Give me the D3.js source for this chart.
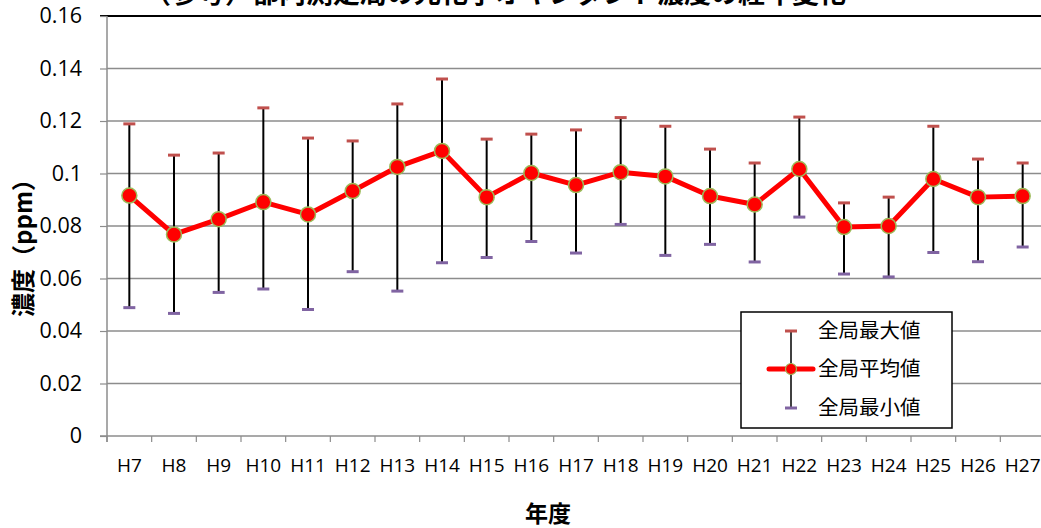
<!DOCTYPE html>
<html>
<head>
<meta charset="utf-8">
<script src="https://cdn.jsdelivr.net/npm/d3@7"></script>
<style>
  body { margin: 0; background: #fff; overflow: hidden; }
  svg text { font-family: "Open Sans", "Noto Sans CJK JP", sans-serif; }
</style>
</head>
<body>
<svg id="chart" width="1041" height="528"></svg>
<script>
// data
var years = ["H7","H8","H9","H10","H11","H12","H13","H14","H15","H16","H17",
             "H18","H19","H20","H21","H22","H23","H24","H25","H26","H27"];
var maxVals = [0.1189,0.107,0.1078,0.125,0.1135,0.1124,0.1265,0.136,0.1131,0.115,0.1166,
               0.1213,0.118,0.1093,0.104,0.1215,0.0888,0.091,0.118,0.1055,0.104];
var meanVals = [0.0916,0.0768,0.0826,0.0891,0.0844,0.0933,0.1025,0.1086,0.091,0.1002,0.0956,
                0.1005,0.0989,0.0914,0.0882,0.1017,0.0796,0.08,0.0979,0.091,0.0914];
var minVals = [0.0489,0.0467,0.0547,0.056,0.0482,0.0626,0.0552,0.066,0.068,0.0741,0.0697,
               0.0806,0.0688,0.073,0.0663,0.0834,0.0617,0.0606,0.0699,0.0664,0.072];
var yTicks = [0, 0.02, 0.04, 0.06, 0.08, 0.1, 0.12, 0.14, 0.16];
var legendLabels = ["全局最大値", "全局平均値", "全局最小値"];

(function() {
var svg = d3.select("#chart");
var plotL = 107, plotT = 16, plotB = 436, plotR = 1045;

var x = d3.scaleBand().domain(years).range([plotL, plotR]);
var y = d3.scaleLinear().domain([0, 0.16]).range([plotB, plotT]);
var cx = function(i) { return x(years[i]) + x.bandwidth() / 2; };

// title (cut off at the top in the original)
svg.append("text")
    .attr("x", 495).attr("y", 3)
    .attr("text-anchor", "middle")
    .style("font-family", "'Noto Sans CJK JP'")
    .style("font-size", "27px").style("font-weight", "bold")
    .text("（参考）都内測定局の光化学オキシダント濃度の経年変化");

// gridlines
svg.append("g").selectAll("line")
    .data(yTicks.slice(1, -1))
    .enter().append("line")
    .attr("x1", plotL).attr("x2", plotR)
    .attr("y1", function(d) { return y(d); })
    .attr("y2", function(d) { return y(d); })
    .attr("stroke", "#8c8c8c").attr("stroke-width", 1.5);

// top border
svg.append("line")
    .attr("x1", plotL - 7).attr("x2", plotR)
    .attr("y1", plotT).attr("y2", plotT)
    .attr("stroke", "#000").attr("stroke-width", 1.8);

// y axis
var yAxis = svg.append("g")
    .attr("transform", "translate(" + plotL + ",0)")
    .call(d3.axisLeft(y).tickValues(yTicks).tickSize(7).tickPadding(18)
        .tickFormat(function(d) { return d === 0 ? "0" : String(+d.toFixed(2)); }));
yAxis.select(".domain").remove();
yAxis.selectAll(".tick line").attr("stroke", "#8c8c8c").attr("stroke-width", 1.2);
yAxis.selectAll("text").style("font-size", "21.5px").attr("fill", "#000");

// x axis
var xTickPos = d3.range(years.length).map(function(i) { return plotL + i * x.bandwidth(); });
svg.append("line")
    .attr("x1", plotL - 7).attr("x2", plotR)
    .attr("y1", plotB).attr("y2", plotB)
    .attr("stroke", "#8c8c8c").attr("stroke-width", 1.5);
svg.append("line")
    .attr("x1", plotL).attr("x2", plotL)
    .attr("y1", plotT).attr("y2", plotB + 6)
    .attr("stroke", "#8c8c8c").attr("stroke-width", 1.5);
svg.append("g").selectAll("line")
    .data(xTickPos)
    .enter().append("line")
    .attr("x1", function(d) { return d; }).attr("x2", function(d) { return d; })
    .attr("y1", plotB).attr("y2", plotB + 6)
    .attr("stroke", "#8c8c8c").attr("stroke-width", 1.2);
svg.append("g").selectAll("text")
    .data(years)
    .enter().append("text")
    .attr("x", function(d, i) { return cx(i); })
    .attr("y", 472)
    .attr("text-anchor", "middle")
    .style("font-size", "19px")
    .text(function(d) { return d; });

// axis titles
svg.append("text")
    .attr("x", 548).attr("y", 522)
    .attr("text-anchor", "middle")
    .style("font-family", "'Noto Sans CJK JP'")
    .style("font-size", "23px").style("font-weight", "bold")
    .text("年度");
svg.append("text")
    .attr("transform", "translate(32,242) rotate(-90)")
    .attr("text-anchor", "middle")
    .style("font-family", "'Noto Sans CJK JP'")
    .style("font-size", "24px").style("font-weight", "bold")
    .text("濃度（ppm）");

// error bars
var bars = svg.append("g");
bars.selectAll("line.bar")
    .data(years)
    .enter().append("line")
    .attr("class", "bar")
    .attr("x1", function(d, i) { return cx(i); })
    .attr("x2", function(d, i) { return cx(i); })
    .attr("y1", function(d, i) { return y(maxVals[i]); })
    .attr("y2", function(d, i) { return y(minVals[i]); })
    .attr("stroke", "#000").attr("stroke-width", 2);
bars.selectAll("line.maxcap")
    .data(maxVals)
    .enter().append("line")
    .attr("class", "maxcap")
    .attr("x1", function(d, i) { return cx(i) - 6; })
    .attr("x2", function(d, i) { return cx(i) + 6; })
    .attr("y1", function(d) { return y(d); })
    .attr("y2", function(d) { return y(d); })
    .attr("stroke", "#c0504d").attr("stroke-width", 3);
bars.selectAll("line.mincap")
    .data(minVals)
    .enter().append("line")
    .attr("class", "mincap")
    .attr("x1", function(d, i) { return cx(i) - 6; })
    .attr("x2", function(d, i) { return cx(i) + 6; })
    .attr("y1", function(d) { return y(d); })
    .attr("y2", function(d) { return y(d); })
    .attr("stroke", "#8064a2").attr("stroke-width", 3);

// mean line + markers
var line = d3.line()
    .x(function(d, i) { return cx(i); })
    .y(function(d) { return y(d); });
svg.append("path")
    .datum(meanVals)
    .attr("d", line)
    .attr("fill", "none")
    .attr("stroke", "#ff0000").attr("stroke-width", 5)
    .attr("stroke-linejoin", "round");
svg.append("g").selectAll("circle")
    .data(meanVals)
    .enter().append("circle")
    .attr("cx", function(d, i) { return cx(i); })
    .attr("cy", function(d) { return y(d); })
    .attr("r", 7.5)
    .attr("fill", "#ff0000")
    .attr("stroke", "#9bbb59").attr("stroke-width", 1.5);

// legend
var lg = svg.append("g");
lg.append("rect")
    .attr("x", 741).attr("y", 312).attr("width", 211).attr("height", 116)
    .attr("fill", "#fff").attr("stroke", "#000").attr("stroke-width", 1.5);
var lx = 791, rowY = [331, 369, 408];
lg.append("line").attr("x1", lx).attr("x2", lx).attr("y1", rowY[0]).attr("y2", rowY[2])
    .attr("stroke", "#000").attr("stroke-width", 1.5);
lg.append("line").attr("x1", lx - 6).attr("x2", lx + 6).attr("y1", rowY[0]).attr("y2", rowY[0])
    .attr("stroke", "#c0504d").attr("stroke-width", 3);
lg.append("line").attr("x1", lx - 6).attr("x2", lx + 6).attr("y1", rowY[2]).attr("y2", rowY[2])
    .attr("stroke", "#8064a2").attr("stroke-width", 3);
lg.append("line").attr("x1", lx - 22).attr("x2", lx + 22).attr("y1", rowY[1]).attr("y2", rowY[1])
    .attr("stroke", "#ff0000").attr("stroke-width", 5).attr("stroke-linecap", "round");
lg.append("circle").attr("cx", lx).attr("cy", rowY[1]).attr("r", 5.5)
    .attr("fill", "#ff0000").attr("stroke", "#9bbb59").attr("stroke-width", 1.2);
lg.selectAll("text")
    .data(legendLabels)
    .enter().append("text")
    .attr("x", 818)
    .attr("y", function(d, i) { return rowY[i]; })
    .attr("dy", "0.35em")
    .style("font-family", "'Noto Sans CJK JP'")
    .style("font-size", "20.5px")
    .text(function(d) { return d; });
})();
</script>
</body>
</html>
